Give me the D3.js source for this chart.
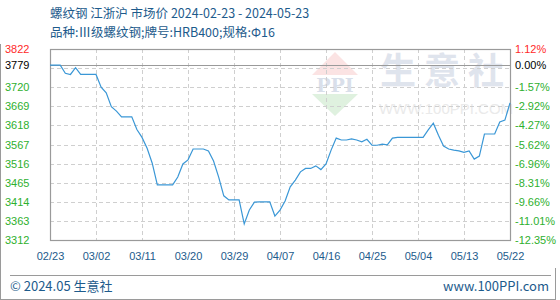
<!DOCTYPE html>
<html>
<head>
<meta charset="utf-8">
<script src="https://cdn.jsdelivr.net/npm/d3@7"></script>
<style>
  body { margin: 0; background: #fff; }
  svg { display: block; }
</style>
</head>
<body>
<div id="chart"></div>
<script>
// daily prices, 02/23 .. 05/23 (index based, like the source chart)
const prices = [
  3779, 3779, 3779, 3757, 3754, 3772, 3754, 3754, 3754, 3754,
  3720, 3705, 3668, 3656, 3641, 3641, 3641, 3607, 3586, 3557,
  3517, 3459, 3459, 3459, 3459, 3480, 3515, 3526, 3555, 3555,
  3555, 3550, 3523, 3480, 3430, 3419, 3419, 3419, 3355, 3392,
  3413, 3414, 3414, 3414, 3376, 3392, 3416, 3454, 3472, 3494,
  3503, 3503, 3510, 3500, 3515, 3552, 3584, 3579, 3579, 3582,
  3579, 3574, 3581, 3565, 3565, 3568, 3566, 3584, 3586, 3586,
  3586, 3586, 3586, 3586, 3606, 3624, 3592, 3563, 3555, 3552,
  3550, 3546, 3550, 3528, 3536, 3595, 3595, 3595, 3627, 3632,
  3678
];
const dateLabels = ["02/23", "03/02", "03/11", "03/20", "03/29", "04/07", "04/16", "04/25", "05/04", "05/13", "05/22"];
const dateTickIdx = [0, 9, 18, 27, 36, 45, 54, 63, 72, 81, 90];

const baseValue = 3779;
const yTicks = [3822, 3779, 3720, 3669, 3618, 3567, 3516, 3465, 3414, 3363, 3312];
const pctLabels = ["1.12%", "0.00%", "-1.57%", "-2.92%", "-4.27%", "-5.62%", "-6.96%", "-8.31%", "-9.66%", "-11.01%", "-12.35%"];
const gridValues = [3771, 3720, 3669, 3618, 3567, 3516, 3465, 3414, 3363];

const title1 = "螺纹钢 江浙沪 市场价 2024-02-23 - 2024-05-23";
const title2 = "品种:Ⅲ级螺纹钢;牌号:HRB400;规格:Φ16";

const width = 560, height = 300;
const margin = { left: 50, right: 50, top: 49, bottom: 60 };
const blue = "#1d5b8c", green = "#2eb02e", red = "#ff2a2a", gray = "#9a9a9a";

const svg = d3.select("#chart").append("svg")
  .attr("width", width).attr("height", height)
  .style("font-family", "'Liberation Sans', Arial, sans-serif");

const x = d3.scaleLinear().domain([0, prices.length - 1]).range([margin.left, width - margin.right]);
const y = d3.scaleLinear().domain([3312, 3822]).range([height - margin.bottom, margin.top]);

const tickColor = v => v > baseValue ? red : (v === baseValue ? "#000" : green);

// watermark
const wm = svg.append("g");
wm.append("path").attr("d", "M312,75 L335,52 L358,75 Z").attr("fill", "#fbe3e3");
wm.append("text").attr("x", 335).attr("y", 92).attr("text-anchor", "middle")
  .attr("font-size", 19).attr("font-family", "'DejaVu Serif', serif").attr("font-weight", "bold")
  .attr("fill", "#d9dfea").text("PPI");
wm.append("path").attr("d", "M312,94 L358,94 L335,116 Z").attr("fill", "#dff1df");
wm.append("text").attr("x", 446).attr("y", 84).attr("text-anchor", "middle")
  .attr("font-size", 36).attr("font-family", "'Noto Sans CJK SC', sans-serif").attr("font-weight", "bold")
  .attr("letter-spacing", 8).attr("fill", "#dfe4ed").text("生意社");
wm.append("text").attr("x", 446).attr("y", 114).attr("text-anchor", "middle")
  .attr("font-size", 15).attr("fill", "#eaeaea").text("WWW.100PPI.COM");

// grid
svg.append("g").selectAll("line").data(gridValues).join("line")
  .attr("x1", margin.left).attr("x2", width - margin.right)
  .attr("y1", d => Math.round(y(d)) + 0.5).attr("y2", d => Math.round(y(d)) + 0.5)
  .attr("stroke", "#cfcfcf").attr("stroke-dasharray", "4,3");
svg.append("g").selectAll("line").data(dateTickIdx.slice(1, -1)).join("line")
  .attr("x1", d => Math.round(x(d)) + 0.5).attr("x2", d => Math.round(x(d)) + 0.5)
  .attr("y1", margin.top).attr("y2", height - margin.bottom)
  .attr("stroke", "#cfcfcf").attr("stroke-dasharray", "4,3");

// frame + base line
svg.append("rect")
  .attr("x", margin.left + 0.5).attr("y", margin.top + 0.5)
  .attr("width", width - margin.left - margin.right).attr("height", height - margin.top - margin.bottom)
  .attr("fill", "none").attr("stroke", gray).attr("stroke-width", 1.2);
svg.append("line")
  .attr("x1", margin.left).attr("x2", width - margin.right)
  .attr("y1", Math.round(y(baseValue)) + 0.5).attr("y2", Math.round(y(baseValue)) + 0.5)
  .attr("stroke", gray).attr("stroke-width", 1.2);

// price line
const line = d3.line().x((d, i) => x(i)).y(d => y(d));
svg.append("path").datum(prices)
  .attr("d", line)
  .attr("fill", "none").attr("stroke", "#3a97d6").attr("stroke-width", 1.2);

// left axis
const leftAxis = svg.append("g")
  .attr("transform", `translate(${margin.left},0)`)
  .call(d3.axisLeft(y).tickValues(yTicks).tickSize(0).tickPadding(0).tickFormat(d3.format("d")));
leftAxis.select(".domain").remove();
leftAxis.selectAll("text")
  .attr("x", -45).attr("text-anchor", "start")
  .attr("font-size", 11).attr("font-family", "'Liberation Sans', Arial, sans-serif")
  .attr("fill", d => tickColor(d));

// right axis
const rightAxis = svg.append("g")
  .attr("transform", `translate(${width - margin.right},0)`)
  .call(d3.axisRight(y).tickValues(yTicks).tickSize(0).tickPadding(5).tickFormat((d, i) => pctLabels[i]));
rightAxis.select(".domain").remove();
rightAxis.selectAll("text")
  .attr("font-size", 11).attr("font-family", "'Liberation Sans', Arial, sans-serif")
  .attr("fill", d => tickColor(d));

// bottom axis
const bottomAxis = svg.append("g")
  .attr("transform", `translate(0,${height - margin.bottom})`)
  .call(d3.axisBottom(x).tickValues(dateTickIdx).tickSize(0).tickPadding(12).tickFormat((d, i) => dateLabels[i]));
bottomAxis.select(".domain").remove();
bottomAxis.selectAll("text")
  .attr("font-size", 11).attr("font-family", "'Liberation Sans', Arial, sans-serif")
  .attr("fill", blue);

// titles
svg.append("text").attr("x", 50).attr("y", 18)
  .attr("font-size", 12.5).attr("font-family", "'Noto Sans CJK SC', sans-serif")
  .attr("fill", blue).text(title1);
svg.append("text").attr("x", 50).attr("y", 37)
  .attr("font-size", 12.5).attr("font-family", "'Noto Sans CJK SC', sans-serif")
  .attr("fill", blue).text(title2);

// outer border + footer
svg.append("line").attr("x1", 0.5).attr("x2", 0.5).attr("y1", 44).attr("y2", height)
  .attr("stroke", gray);
svg.append("line").attr("x1", 0).attr("x2", 556).attr("y1", height - 0.5).attr("y2", height - 0.5)
  .attr("stroke", gray);
svg.append("line").attr("x1", 555.5).attr("x2", 555.5).attr("y1", 268).attr("y2", height)
  .attr("stroke", gray);
svg.append("line").attr("x1", 10).attr("x2", 551).attr("y1", 275.5).attr("y2", 275.5)
  .attr("stroke", gray);
svg.append("text").attr("x", 10).attr("y", 291)
  .attr("font-size", 13).attr("font-family", "'Noto Sans CJK SC', sans-serif")
  .attr("fill", blue).text("© 2024.05 生意社");
svg.append("text").attr("x", 549).attr("y", 291).attr("text-anchor", "end")
  .attr("font-size", 13).attr("font-family", "'Noto Sans CJK SC', sans-serif")
  .attr("fill", blue).text("www.100PPI.com");
</script>
</body>
</html>
